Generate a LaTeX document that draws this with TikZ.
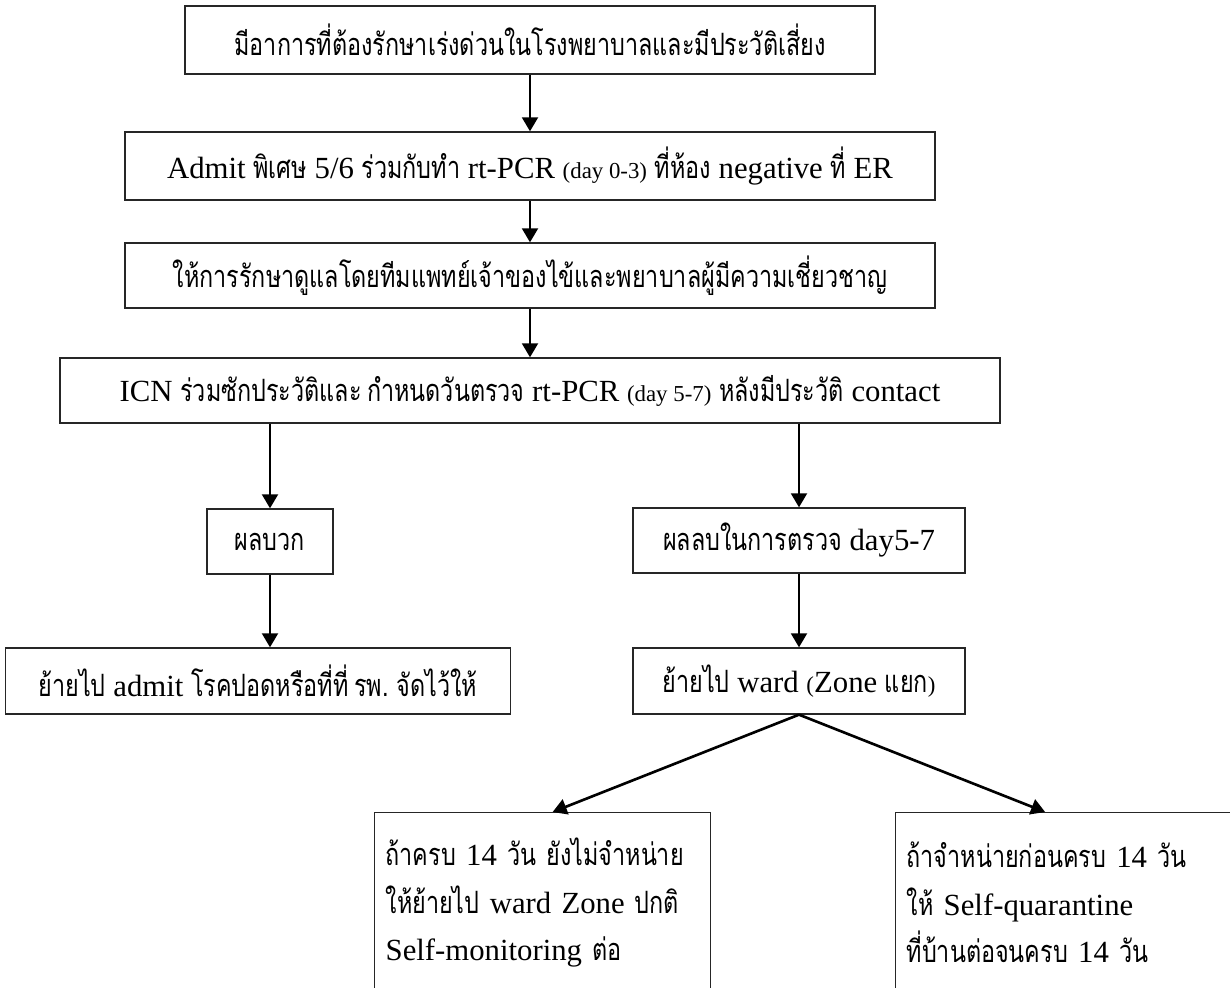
\documentclass[tikz,border=0pt]{standalone}
\usepackage{fontspec}
\setmainfont{Liberation Serif}
\newfontfamily\thaifont[Script=Thai,Scale=1.0,FakeStretch=0.76,WordSpace=0.7]{Loma}
\newcommand{\tha}[1]{{\thaifont #1}}
\newcommand{\sm}[1]{{\fontsize{13}{15}\selectfont #1}}
\usetikzlibrary{arrows.meta}

\begin{document}
\begin{tikzpicture}[x=0.02cm,y=-0.02cm,
    box/.style={draw=black!85,line width=0.75pt,inner sep=0pt,align=center,
      font=\fontsize{17.5}{20}\selectfont},
    note/.style={box,align=left,anchor=north west,inner xsep=0.22cm,
      font=\fontsize{17.5}{27}\selectfont},
    arr/.style={line width=1.5pt,-{Triangle[length=8pt,width=9pt]}}]
  \useasboundingbox (0,0) rectangle (1230,987);
  \clip (0,0) rectangle (1230,987);
  % main chain
  \node[box,minimum width=13.8cm,minimum height=1.36cm] (b1) at (530,40)
    {\tha{มีอาการที่ต้องรักษาเร่งด่วนในโรงพยาบาลและมีประวัติเสี่ยง}};
  \node[box,minimum width=16.2cm,minimum height=1.36cm] (b2) at (530,166)
    {Admit \tha{พิเศษ} 5/6 \tha{ร่วมกับทำ} rt-PCR \sm{(day 0-3)} \tha{ที่ห้อง} negative \tha{ที่} ER};
  \node[box,minimum width=16.2cm,minimum height=1.3cm] (b3) at (530,275.5)
    {\tha{ให้การรักษาดูแลโดยทีมแพทย์เจ้าของไข้และพยาบาลผู้มีความเชี่ยวชาญ}};
  \node[box,minimum width=18.8cm,minimum height=1.3cm] (b4) at (530,390.5)
    {ICN \tha{ร่วมซักประวัติและ กำหนดวันตรวจ} rt-PCR \sm{(day 5-7)} \tha{หลังมีประวัติ} contact};
  % results
  \node[box,minimum width=2.52cm,minimum height=1.3cm] (pos) at (270,541.5)
    {\tha{ผลบวก}};
  \node[box,minimum width=6.64cm,minimum height=1.3cm] (neg) at (799,540.5)
    {\tha{ผลลบในการตรวจ} day5-7};
  \node[box,minimum width=10.1cm,minimum height=1.32cm] (adm) at (258,681)
    {\tha{ย้ายไป} admit \tha{โรคปอดหรือที่ที่ รพ. จัดไว้ให้}};
  \node[box,minimum width=6.64cm,minimum height=1.32cm] (ward) at (799,681)
    {\tha{ย้ายไป} ward \sm{(}Zone \tha{แยก}\sm{)}};
  % discharge notes
  \node[note,text width=6.28cm,minimum height=3.6cm] (bl) at (374,812)
    {\tha{ถ้าครบ} 14 \tha{วัน ยังไม่จำหน่าย}\\
     \tha{ให้ย้ายไป} ward Zone \tha{ปกติ}\\
     Self-monitoring \tha{ต่อ}};
  \node[note,text width=6.46cm,minimum height=3.6cm] (br) at (895,812)
    {\tha{ถ้าจำหน่ายก่อนครบ} 14 \tha{วัน}\\
     \tha{ให้} Self-quarantine\\
     \tha{ที่บ้านต่อจนครบ} 14 \tha{วัน}};
  % arrows
  \draw[arr] (b1) -- (b2);
  \draw[arr] (b2) -- (b3);
  \draw[arr] (b3) -- (b4);
  \draw[arr] (b4.south -| pos) -- (pos);
  \draw[arr] (b4.south -| neg) -- (neg);
  \draw[arr] (pos) -- (pos |- adm.north);
  \draw[arr] (neg) -- (ward);
  \draw[arr] (ward.south) -- ([xshift=0.2cm]bl.north);
  \draw[arr] (ward.south) -- ([xshift=-0.46cm]br.north);
\end{tikzpicture}
\end{document}
